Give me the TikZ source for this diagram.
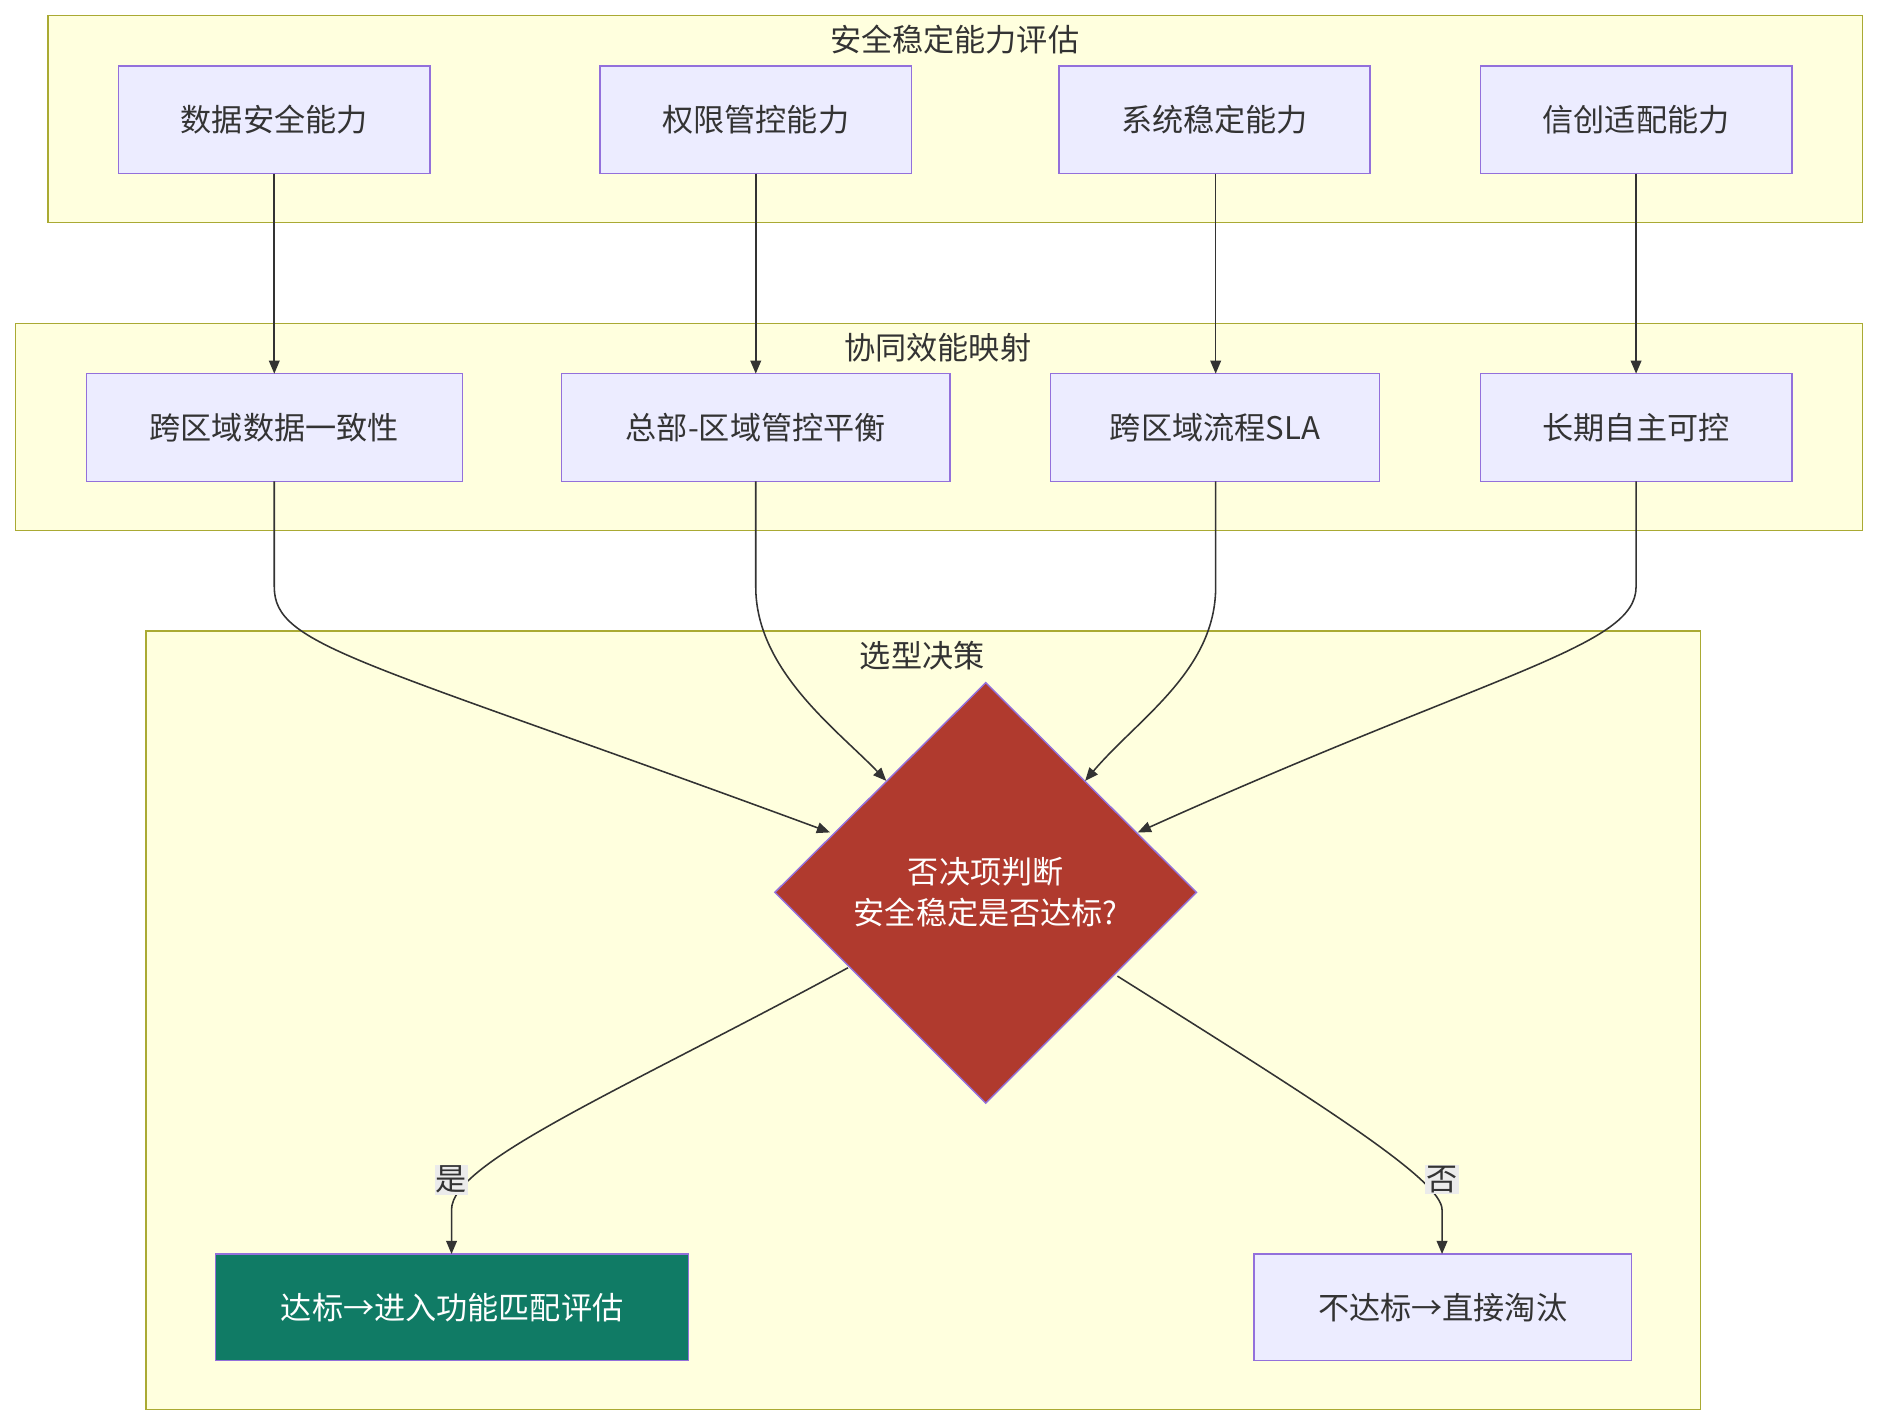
\documentclass[tikz,border=0pt]{standalone}
\usepackage{fontspec}
\setmainfont{Noto Sans CJK SC}
\usetikzlibrary{arrows.meta,shapes.geometric}
\definecolor{clf}{HTML}{FFFFDE}\definecolor{cld}{HTML}{AAAA33}
\definecolor{ndf}{HTML}{ECECFF}\definecolor{ndd}{HTML}{9370DB}
\definecolor{tx}{HTML}{333333}\definecolor{dia}{HTML}{B03A2E}\definecolor{grn}{HTML}{107B65}
\begin{document}
\begin{tikzpicture}[x=1pt,y=-1pt,
 cl/.style={draw=cld,fill=clf,line width=1.2pt},
 ttl/.style={text=tx,font=\fontsize{26}{30}\selectfont},
 nd/.style={draw=ndd,fill=ndf,line width=1.2pt,text=tx,font=\fontsize{26}{30}\selectfont},
 ar/.style={draw=tx,line width=1.3pt,-{Triangle[length=11pt,width=9pt]}},
 lb/.style={fill=black!8,text=tx,inner sep=1pt,font=\fontsize{26}{30}\selectfont}]
\useasboundingbox (0,0) rectangle (1568,1191);
\fill[white] (0,0) rectangle (1568,1191);
\draw[cl] (40,13) rectangle (1555,186);
\node[ttl] (t1) at (797,33) {安全稳定能力评估};
\draw[cl] (13,270) rectangle (1555,443);
\node[ttl] (t2) at (783,290) {协同效能映射};
\draw[cl] (122,527) rectangle (1420,1177);
\node[ttl] (t3) at (770,547) {选型决策};
\draw[nd] (99,55) rectangle node (a1) {数据安全能力} (359,145);
\draw[nd] (501,55) rectangle node (a2) {权限管控能力} (761,145);
\draw[nd] (884,55) rectangle node (a3) {系统稳定能力} (1144,145);
\draw[nd] (1236,55) rectangle node (a4) {信创适配能力} (1496,145);
\draw[nd] (72,312) rectangle node (b1) {跨区域数据一致性} (386,402);
\draw[nd] (469,312) rectangle node (b2) {总部-区域管控平衡} (793,402);
\draw[nd] (877,312) rectangle node (b3) {跨区域流程SLA} (1152,402);
\draw[nd] (1236,312) rectangle node (b4) {长期自主可控} (1496,402);
\coordinate (a1s) at (229,145);\coordinate (b1n) at (229,312);
\coordinate (a2s) at (631,145);\coordinate (b2n) at (631,312);
\coordinate (a3s) at (1015,145);\coordinate (b3n) at (1015,312);
\coordinate (a4s) at (1366,145);\coordinate (b4n) at (1366,312);
\draw[ar] (a1s)--(b1n);\draw[ar] (a2s)--(b2n);\draw[ar] (a3s)--(b3n);\draw[ar] (a4s)--(b4n);
\fill[dia,draw=ndd,line width=1.2pt] (823,570)--(999,745)--(823,921)--(647,745)--cycle;
\node[text=white,align=center,font=\fontsize{26}{34}\selectfont] (d) at (823,745) {否决项判断\\安全稳定是否达标?};
\draw[nd,fill=grn] (180,1047) rectangle node[text=white] (y) {达标→进入功能匹配评估} (575,1136);
\draw[nd] (1047,1047) rectangle node (n) {不达标→直接淘汰} (1362,1136);
\coordinate (b1s) at (229,402);\coordinate (b2s) at (631,402);
\coordinate (b3s) at (1015,402);\coordinate (b4s) at (1366,402);
\coordinate (e1) at (693,695);\coordinate (e2) at (740,652);\coordinate (e3) at (906,652);\coordinate (e4) at (950,695);
\draw[ar] (b1s)--(229,490) .. controls (229,540) and (300,550) .. (e1);
\draw[ar] (b2s)--(631,490) .. controls (631,560) and (700,610) .. (e2);
\draw[ar] (b3s)--(1015,490) .. controls (1015,560) and (950,600) .. (e3);
\draw[ar] (b4s)--(1366,490) .. controls (1366,540) and (1250,560) .. (e4);
\coordinate (ds1) at (708,808);\coordinate (ds2) at (933,815);
\coordinate (yn) at (377,1047);\coordinate (nn) at (1204,1047);
\draw[ar] (ds1) .. controls (520,910) and (377,970) .. (377,1010)--(yn);
\draw[ar] (ds2) .. controls (1100,920) and (1204,985) .. (1204,1010)--(nn);
\node[lb] (ly) at (377,985) {是};
\node[lb] (ln) at (1204,985) {否};
\end{tikzpicture}
\end{document}
